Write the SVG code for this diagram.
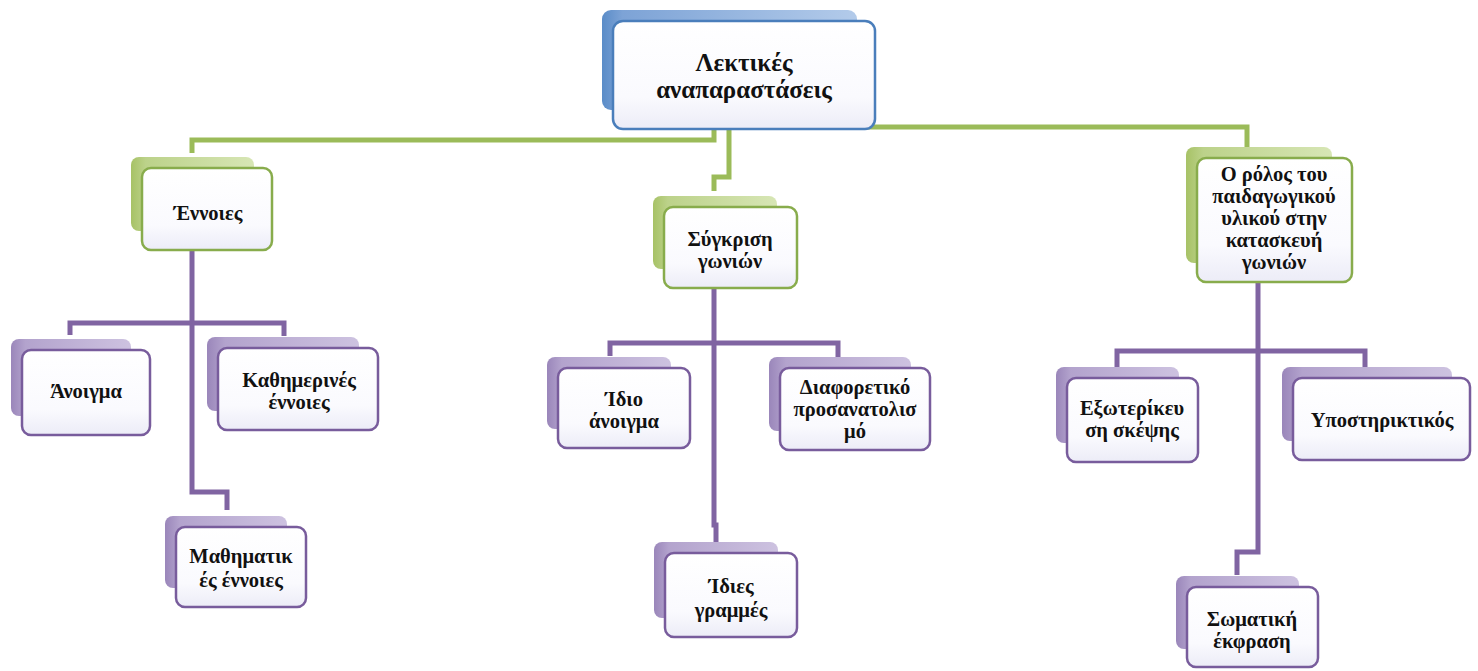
<svg xmlns="http://www.w3.org/2000/svg" width="1478" height="671" viewBox="0 0 1478 671">
<defs>
<linearGradient id="gBlueSh" x1="0" y1="0" x2="1" y2="0">
<stop offset="0" stop-color="#5A8CC8"/><stop offset="0.08" stop-color="#7DA3D6"/><stop offset="1" stop-color="#B3CBEA"/>
</linearGradient>
<linearGradient id="gGreenSh" x1="0" y1="0" x2="1" y2="0">
<stop offset="0" stop-color="#A7C266"/><stop offset="0.12" stop-color="#BCD28A"/><stop offset="1" stop-color="#D7E6B5"/>
</linearGradient>
<linearGradient id="gPurpleSh" x1="0" y1="0" x2="1" y2="0">
<stop offset="0" stop-color="#9A86BA"/><stop offset="0.12" stop-color="#B3A3CD"/><stop offset="1" stop-color="#CDC2E0"/>
</linearGradient>
<linearGradient id="gFill" x1="0" y1="0" x2="0" y2="1">
<stop offset="0" stop-color="#FFFFFF"/><stop offset="0.7" stop-color="#FAFAFE"/><stop offset="1" stop-color="#ECECF7"/>
</linearGradient>
<style>
.conn-g{fill:none;stroke:#9BBB59;stroke-width:5;stroke-linejoin:miter}
.conn-p{fill:none;stroke:#8064A2;stroke-width:5;stroke-linejoin:miter}
.box{fill:url(#gFill);stroke-width:2.5}
.blue .box{stroke:#4A7EBB}
.green .box{stroke:#88AC4C}
.purple .box{stroke:#785C9C}
.blue .sh{fill:url(#gBlueSh)}
.green .sh{fill:url(#gGreenSh)}
.purple .sh{fill:url(#gPurpleSh)}
text{font-family:"Liberation Serif","DejaVu Serif",serif;font-weight:bold;fill:#111;text-anchor:middle;font-size:20.5px}
.root text{font-size:25px}
</style>
</defs>
<rect width="1478" height="671" fill="#FFFFFF"/>

<g id="connectors">
<path class="conn-g" d="M714,129 V140 H192 V153"/>
<path class="conn-g" d="M729,129 V177 H714 V191"/>
<path class="conn-g" d="M866,127 H1247 V147"/>
<path class="conn-p" d="M192,250 V492 H227 V510"/>
<path class="conn-p" d="M70,335 V323 H284 V336"/>
<path class="conn-p" d="M714,288 V525 H716 V543"/>
<path class="conn-p" d="M610,356 V343 H838 V357"/>
<path class="conn-p" d="M1258,282 V552 H1237 V575"/>
<path class="conn-p" d="M1117,367 V351 H1365 V367"/>
</g>

<g id="n-root" class="blue root">
<rect class="sh" x="602" y="10" width="255" height="100" rx="9"/>
<rect class="box" x="613" y="21" width="262" height="108" rx="10"/>
<text x="744" y="71">Λεκτικές</text>
<text x="744" y="98">αναπαραστάσεις</text>
</g>

<g id="n-ennoies" class="green">
<rect class="sh" x="131" y="157" width="123" height="74" rx="8"/>
<rect class="box" x="142" y="168" width="130" height="82" rx="9"/>
<text x="208" y="220">Έννοιες</text>
</g>

<g id="n-sygkrisi" class="green">
<rect class="sh" x="653" y="196" width="124" height="73" rx="8"/>
<rect class="box" x="664" y="207" width="133" height="81" rx="9"/>
<text x="730" y="246">Σύγκριση</text>
<text x="730" y="268">γωνιών</text>
</g>

<g id="n-rolos" class="green">
<rect class="sh" x="1186" y="147" width="146" height="116" rx="8"/>
<rect class="box" x="1197" y="158" width="155" height="124" rx="9"/>
<text x="1274" y="181">Ο ρόλος του</text>
<text x="1274" y="203">παιδαγωγικού</text>
<text x="1274" y="225">υλικού στην</text>
<text x="1274" y="247">κατασκευή</text>
<text x="1274" y="269">γωνιών</text>
</g>

<g id="n-anoigma" class="purple">
<rect class="sh" x="11" y="339" width="120" height="77" rx="8"/>
<rect class="box" x="22" y="350" width="128" height="85" rx="9"/>
<text x="86" y="398">Άνοιγμα</text>
</g>

<g id="n-kathimerines" class="purple">
<rect class="sh" x="207" y="337" width="152" height="74" rx="8"/>
<rect class="box" x="218" y="348" width="160" height="82" rx="9"/>
<text x="299" y="387">Καθημερινές</text>
<text x="299" y="409">έννοιες</text>
</g>

<g id="n-mathimatikes" class="purple">
<rect class="sh" x="165" y="516" width="122" height="72" rx="8"/>
<rect class="box" x="176" y="527" width="130" height="80" rx="9"/>
<text x="241" y="563">Μαθηματικ</text>
<text x="241" y="587">ές έννοιες</text>
</g>

<g id="n-idio" class="purple">
<rect class="sh" x="547" y="357" width="124" height="72" rx="8"/>
<rect class="box" x="558" y="368" width="132" height="80" rx="9"/>
<text x="624" y="406">Ίδιο</text>
<text x="624" y="428">άνοιγμα</text>
</g>

<g id="n-diaforetiko" class="purple">
<rect class="sh" x="769" y="357" width="142" height="74" rx="8"/>
<rect class="box" x="780" y="368" width="150" height="82" rx="9"/>
<text x="855" y="394">Διαφορετικό</text>
<text x="855" y="416">προσανατολισ</text>
<text x="855" y="438">μό</text>
</g>

<g id="n-idies" class="purple">
<rect class="sh" x="654" y="542" width="124" height="76" rx="8"/>
<rect class="box" x="665" y="553" width="132" height="84" rx="9"/>
<text x="731" y="593">Ίδιες</text>
<text x="731" y="617">γραμμές</text>
</g>

<g id="n-exoterikeusi" class="purple">
<rect class="sh" x="1056" y="367" width="123" height="76" rx="8"/>
<rect class="box" x="1067" y="378" width="131" height="84" rx="9"/>
<text x="1132" y="415">Εξωτερίκευ</text>
<text x="1132" y="437">ση σκέψης</text>
</g>

<g id="n-ypostiriktikos" class="purple">
<rect class="sh" x="1282" y="367" width="170" height="74" rx="8"/>
<rect class="box" x="1293" y="378" width="177" height="82" rx="9"/>
<text x="1382" y="427">Υποστηρικτικός</text>
</g>

<g id="n-somatiki" class="purple">
<rect class="sh" x="1176" y="576" width="123" height="73" rx="8"/>
<rect class="box" x="1187" y="587" width="131" height="80" rx="9"/>
<text x="1252" y="626">Σωματική</text>
<text x="1252" y="648">έκφραση</text>
</g>
</svg>
